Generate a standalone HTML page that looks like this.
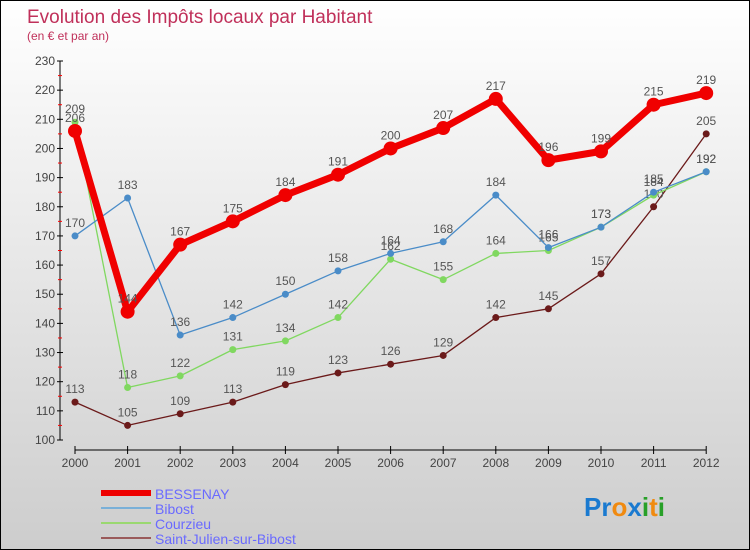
<!DOCTYPE html>
<html><head><meta charset="utf-8"><style>
body{margin:0;width:750px;height:550px;overflow:hidden;font-family:"Liberation Sans",sans-serif}
#wrap{position:relative;width:748px;height:548px;border:1px solid #000;background:linear-gradient(#fff,#cdcdcd)}
</style></head><body>
<div id="wrap">
<svg id="c" width="748" height="548" style="position:absolute;left:0;top:0">
<text x="26" y="22" font-size="19" fill="#c0305a">Evolution des Impôts locaux par Habitant</text>
<text x="26" y="39" font-size="12" fill="#c0305a">(en € et par an)</text>
</svg>
</div>
<script>
const years=[2000,2001,2002,2003,2004,2005,2006,2007,2008,2009,2010,2011,2012];
const bessenay=[206,144,167,175,184,191,200,207,217,196,199,215,219];
const bibost=[170,183,136,142,150,158,164,168,184,166,173,185,192];
const courzieu=[209,118,122,131,134,142,162,155,164,165,173,184,192];
const stjulien=[113,105,109,113,119,123,126,129,142,145,157,180,205];
const yTicks=[100,110,120,130,140,150,160,170,180,190,200,210,220,230];
const svg=document.getElementById('c');const NS='http://www.w3.org/2000/svg';
const X=i=>74+i*52.6, Y=v=>439-(v-100)*(379/130);
function mk(t,a,p){const e=document.createElementNS(NS,t);for(const k in a)e.setAttribute(k,a[k]);(p||svg).appendChild(e);return e;}
let ax=mk('line',{x1:59,y1:Y(230),x2:59,y2:Y(100),stroke:'#000','stroke-width':1});


let xa=mk('line',{x1:X(0),y1:449,x2:X(12),y2:449,stroke:'#000','stroke-width':1});


yTicks.forEach(v=>{mk('line',{x1:56,y1:Y(v),x2:62,y2:Y(v),stroke:'#000'});
 if(v<230)mk('line',{x1:57,y1:Y(v+5),x2:61,y2:Y(v+5),stroke:'#f00'});
 const t=mk('text',{x:54,y:Y(v)+4,'font-size':12,'text-anchor':'end',fill:'#444'});t.textContent=v;
 
 });
years.forEach((y,i)=>{mk('line',{x1:X(i),y1:445,x2:X(i),y2:453,stroke:'#000'});
 const t=mk('text',{x:X(i),y:466,'font-size':12,'text-anchor':'middle',fill:'#444'});t.textContent=y;
 
 });
function series(d,col,w,r,name){const g=mk('g',{});
 
 
 mk('polyline',{points:d.map((v,i)=>X(i)+','+Y(v)).join(' '),fill:'none',stroke:col,'stroke-width':w,'stroke-linejoin':'round'},g);
 d.forEach((v,i)=>{const c=mk('circle',{cx:X(i),cy:Y(v),r:r,fill:col},g);
  
  
  const t=mk('text',{x:X(i),y:Y(v)-9,'font-size':12,'text-anchor':'middle',fill:'#555'},g);t.textContent=v;});}
series(stjulien,'#6b1a1a',1.3,3.5,'saint-julien-series');
series(courzieu,'#80d860',1.3,3.5,'courzieu-series');
series(bibost,'#4a8cc8',1.3,3.5,'bibost-series');
series(bessenay,'#f00000',7,7,'bessenay-series');
const leg=[['BESSENAY','#e00',6],['Bibost','#7ab0d8',2],['Courzieu','#9ad870',2],['Saint-Julien-sur-Bibost','#9a5a5a',2]];
leg.forEach((l,i)=>{const y=492+i*15;const g=mk('g',{});
 
 
 mk('line',{x1:100,y1:y,x2:150,y2:y,stroke:l[1],'stroke-width':l[2]},g);
 const t=mk('text',{x:154,y:y+6,'font-size':14,fill:'#6a6aff'},g);t.textContent=l[0];});
const lg=mk('text',{x:583,y:515,'font-size':26,'font-weight':'bold'});


[['Pr','#1a7ad0'],['o','#f08a10'],['x','#1a7ad0'],['i','#28a028'],['t','#f08a10'],['i','#28a028']].forEach(p=>{const s=mk('tspan',{fill:p[1]},lg);s.textContent=p[0];});
</script>
</body></html>
